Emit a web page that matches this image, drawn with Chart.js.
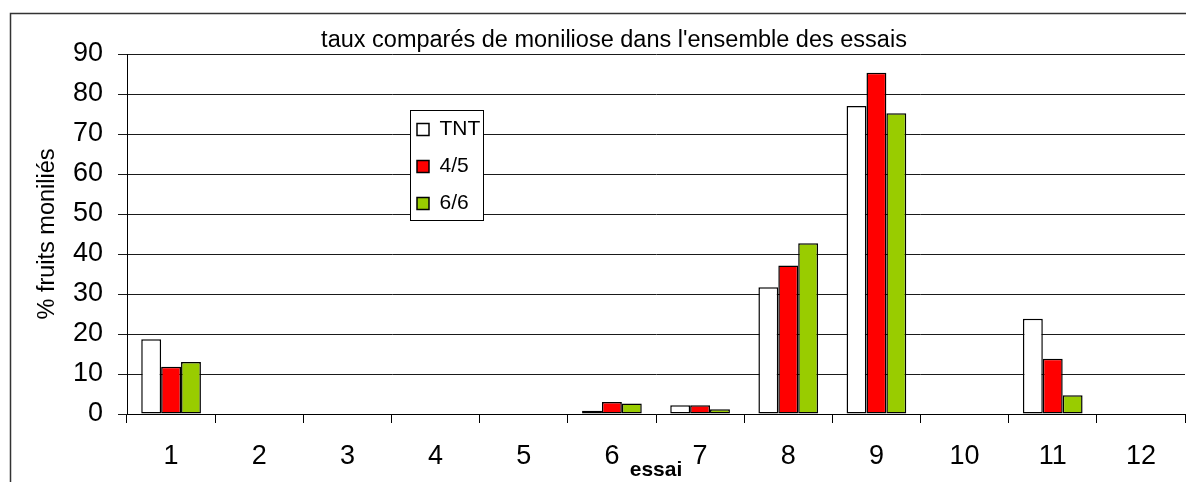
<!DOCTYPE html>
<html>
<head>
<meta charset="utf-8">
<script src="https://cdn.jsdelivr.net/npm/chart.js@4.4.1/dist/chart.umd.min.js"></script>
<style>
html,body{margin:0;padding:0;background:#fff;overflow:hidden}
#wrap{position:relative;width:1186px;height:482px}
canvas{display:block}
</style>
</head>
<body>
<div id="wrap"><canvas id="c" width="1186" height="482"></canvas></div>
<script>
// ---- data ----
const categories = ['1','2','3','4','5','6','7','8','9','10','11','12'];
const seriesLabels = ['TNT','4/5','6/6'];
const valuesTNT = [18.7, 0, 0, 0, 0, 0.8, 2.2, 31.7, 77.0, 0, 23.8, 0];
const values45  = [11.8, 0, 0, 0, 0, 3.0, 2.2, 37.1, 85.3, 0, 13.8, 0];
const values66  = [13.0, 0, 0, 0, 0, 2.6, 1.2, 42.7, 75.2, 0, 4.7, 0];
const yTickValues = [0, 10, 20, 30, 40, 50, 60, 70, 80, 90];
const chartTitle = "taux comparés de moniliose dans l'ensemble des essais";
const yAxisTitle = '% fruits moniliés';
const xAxisTitle = 'essai';

const FONT = "'Liberation Sans', Arial, Helvetica, sans-serif";

// frame + title
const framePlugin = {
  id: 'frameAndTitle',
  beforeDraw(chart) {
    const ctx = chart.ctx;
    ctx.save();
    ctx.fillStyle = '#fff';
    ctx.fillRect(0, 0, chart.width, chart.height);
    ctx.strokeStyle = '#333';
    ctx.lineWidth = 1.5;
    ctx.beginPath();
    ctx.moveTo(10.5, chart.height + 2);
    ctx.lineTo(10.5, 13.5);
    ctx.lineTo(chart.width + 2, 13.5);
    ctx.stroke();
    ctx.fillStyle = '#000';
    ctx.font = '23.5px ' + FONT;
    ctx.textAlign = 'center';
    ctx.textBaseline = 'alphabetic';
    ctx.fillText(chartTitle, 614, 47);
    ctx.restore();
  }
};

function drawLegendFrame(ctx) {
  ctx.save();
  ctx.fillStyle = '#fff';
  ctx.fillRect(410, 110, 73, 110);
  ctx.strokeStyle = '#000';
  ctx.lineWidth = 1;
  ctx.strokeRect(410.5, 110.5, 73, 110);
  ctx.restore();
}

const legendPlacer = {
  id: 'legendPlacer',
  afterUpdate(chart) {
    const lg = chart.legend;
    if (!lg) return;
    lg.left = 401; lg.top = 103;
    lg.fit();
    lg.right = lg.left + Math.max(lg.width, 200);
    lg.bottom = lg.top + Math.max(lg.height, 200);
    lg.adjustHitBoxes();
    if (!lg._frameWrapped) {
      const proto = Object.getPrototypeOf(lg);
      lg.draw = function (area) { drawLegendFrame(this.ctx); proto.draw.call(this, area); };
      lg._frameWrapped = true;
    }
  }
};

const datasets = [
  { label: seriesLabels[0], data: valuesTNT, backgroundColor: '#ffffff' },
  { label: seriesLabels[1], data: values45,  backgroundColor: '#ff0000' },
  { label: seriesLabels[2], data: values66,  backgroundColor: '#99cc00' }
].map(d => Object.assign(d, { borderColor: '#000', borderWidth: 1.5, borderSkipped: false }));

new Chart(document.getElementById('c'), {
  type: 'bar',
  data: { labels: categories, datasets },
  options: {
    responsive: false,
    animation: false,
    devicePixelRatio: 1,
    layout: { padding: { top: 54, left: 0, right: 1, bottom: 0 } },
    datasets: { bar: { categoryPercentage: 0.677, barPercentage: 1.0 } },
    plugins: {
      title: { display: false },
      tooltip: { enabled: false },
      legend: {
        display: true,
        position: 'chartArea',
        align: 'start',
        labels: {
          boxWidth: 12, boxHeight: 12, padding: 16, color: '#000',
          font: { family: FONT, size: 21 }
        }
      }
    },
    scales: {
      x: {
        afterFit(s) { s.height = 68; },
        grid: { display: true, drawOnChartArea: false, drawTicks: true, tickLength: 9, color: '#000', offset: true },
        border: { display: true, color: '#000', width: 1 },
        ticks: { color: '#000', padding: 17, font: { family: FONT, size: 27 }, maxRotation: 0, autoSkip: false },
        title: { display: true, text: xAxisTitle, color: '#000', padding: { top: 0, bottom: 3 },
                 font: { family: FONT, size: 21, weight: 'bold', lineHeight: 0.8 } }
      },
      y: {
        min: 0, max: 90,
        afterFit(s) { s.width = 127; },
        afterBuildTicks(s) { s.ticks = yTickValues.map(v => ({ value: v })); },
        grid: { color: '#1a1a1a', lineWidth: 1, drawTicks: true, tickLength: 9 },
        border: { display: true, color: '#000', width: 1 },
        ticks: { color: '#000', padding: 15, font: { family: FONT, size: 27 } },
        title: { display: true, text: yAxisTitle, color: '#000', padding: { top: 33, bottom: 0 },
                 font: { family: FONT, size: 23.5 } }
      }
    }
  },
  plugins: [framePlugin, legendPlacer]
});
</script>
</body>
</html>
